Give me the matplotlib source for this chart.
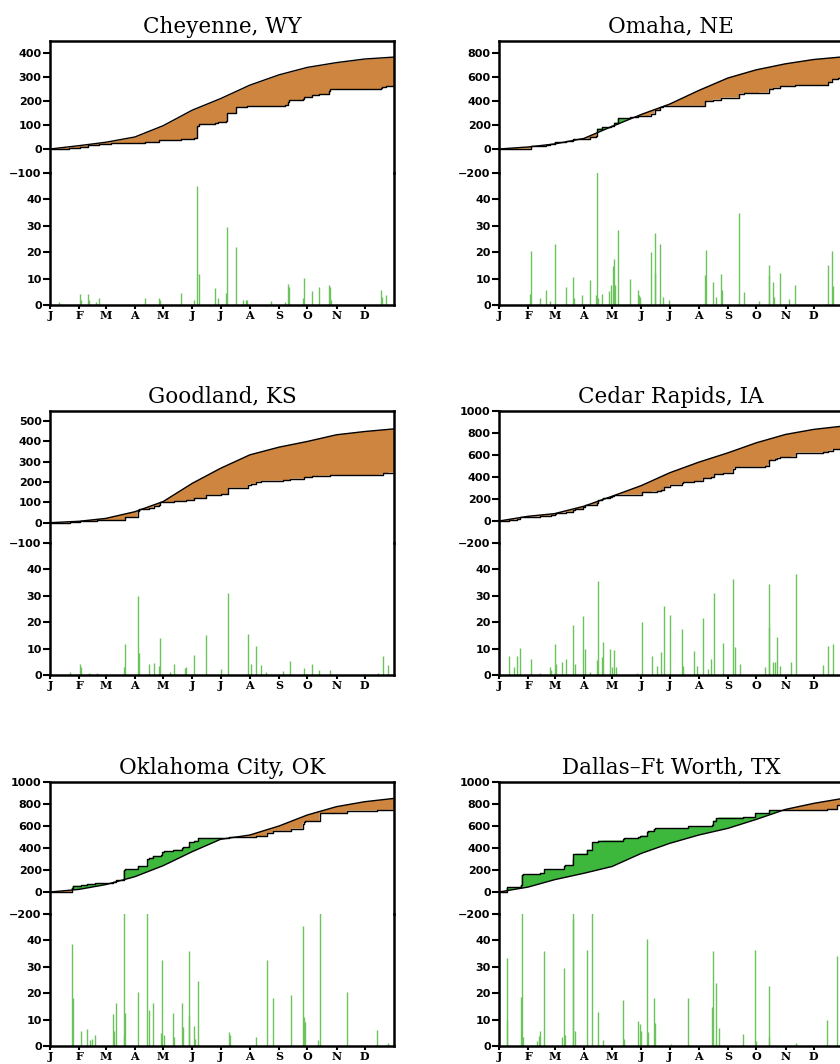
import numpy as np
import matplotlib.pyplot as plt

plt.rcParams['font.family'] = ['DejaVu Sans']
plt.rcParams['font.weight'] = 'bold'

month_starts = [0, 31, 59, 90, 120, 151, 181, 212, 243, 273, 304, 334]
month_labels = ['J', 'F', 'M', 'A', 'M', 'J', 'J', 'A', 'S', 'O', 'N', 'D']
norm_days = [0, 31, 59, 90, 120, 151, 181, 212, 243, 273, 304, 334, 365]

# Cheyenne, WY
chey_normal = [0, 14, 28, 50, 97, 162, 210, 266, 309, 340, 360, 375, 383]
chey_rain_day = [10, 32, 33, 40, 41, 49, 52, 101, 116, 117, 139, 153, 156, 158, 175, 178, 187, 188,
                 197, 205, 208, 209, 235, 249, 253, 254, 268, 269, 278, 285, 296, 297, 298, 351, 352, 357]
chey_rain_mm = [1, 4.3, 2, 4.3, 2, 1, 2.7, 2.7, 2.5, 2, 4.5, 2, 45, 11.7, 6.5, 2.5, 4.5, 29.5,
                22, 2, 2, 2, 1.5, 1, 8, 7, 2.5, 10.2, 5.3, 6.8, 7.4, 7, 2, 5.5, 3, 3.7]
chey_ytd_day = [0, 10, 20, 32, 40, 52, 65, 80, 101, 116, 139, 153, 156, 158, 175, 178, 187, 188,
                197, 205, 209, 235, 249, 253, 254, 268, 269, 278, 285, 296, 297, 298, 351, 352, 357]
chey_ytd_mm = [0, 1, 3, 9, 15, 20, 23, 26, 30, 37, 42, 46, 94, 104, 110, 113, 118, 148,
               173, 175, 178, 180, 183, 195, 203, 207, 215, 224, 231, 241, 248, 250, 256, 259, 262]

# Omaha, NE
omaha_normal = [0, 17, 42, 88, 188, 288, 374, 488, 592, 660, 710, 746, 768]
omaha_rain_day = [33, 34, 44, 50, 54, 59, 71, 79, 80, 88, 97, 103, 104, 105, 109, 117, 119, 121, 122, 123,
                  126, 139, 147, 149, 150, 161, 165, 166, 171, 174, 180, 219, 220, 227, 230, 236, 237, 255,
                  260, 276, 286, 287, 291, 292, 298, 308, 314, 349, 353, 354]
omaha_rain_mm = [4, 20.4, 2.8, 5.8, 1.6, 23, 6.8, 10.7, 2.8, 3.8, 9.5, 3.7, 57, 2.5, 4.3, 5.3, 7.7, 14.6, 17.3, 7.7,
                 28.3, 9.9, 5.8, 3.7, 3, 19.9, 27.3, 12, 23, 3.1, 1.9, 11.5, 20.9, 8.6, 3, 11.7, 5.5, 34.8,
                 5, 1.5, 15.2, 11.4, 8.6, 3, 12.3, 2.2, 7.7, 15.2, 20.6, 7.3]
omaha_ytd_day = [0, 20, 34, 44, 50, 54, 59, 71, 79, 88, 97, 103, 104, 109, 117, 119, 122, 126, 139, 147,
                 150, 161, 165, 171, 174, 180, 219, 227, 236, 255, 260, 276, 286, 291, 298, 308, 314, 349, 353, 360]
omaha_ytd_mm = [0, 2, 26, 29, 35, 38, 58, 66, 80, 85, 97, 110, 170, 180, 187, 195, 220, 255, 266, 272,
                276, 295, 322, 350, 355, 360, 397, 412, 429, 462, 467, 470, 500, 511, 523, 526, 533, 555, 583, 590]

# Goodland, KS
good_normal = [0, 7, 21, 54, 104, 194, 268, 334, 372, 400, 433, 449, 462]
good_rain_day = [21, 32, 33, 41, 44, 50, 79, 80, 93, 94, 105, 110, 116, 117, 127, 132, 143, 144, 153, 166,
                 181, 189, 210, 213, 219, 224, 229, 247, 255, 270, 278, 285, 297, 348, 353, 359]
good_rain_mm = [1, 4.3, 3, 0.6, 0.5, 0.6, 3, 11.8, 30, 8.3, 4.1, 4.6, 3.3, 14, 1.2, 4.1, 2.5, 3.1, 7.4, 15.2,
                2.1, 31.2, 15.5, 4.1, 11.1, 3.7, 1.2, 1.6, 5.3, 2.8, 4.1, 1.9, 1.9, 0.9, 7.1, 3.7]
good_ytd_day = [0, 21, 32, 33, 50, 79, 80, 93, 94, 105, 110, 116, 117, 132, 144, 153, 166, 181, 189, 210,
                213, 219, 224, 247, 255, 270, 278, 285, 297, 348, 353, 359]
good_ytd_mm = [0, 2, 6, 8, 11, 15, 28, 58, 66, 74, 82, 86, 100, 105, 112, 120, 137, 139, 172, 188,
               192, 202, 207, 210, 217, 224, 229, 231, 233, 236, 243, 247]

# Cedar Rapids, IA
cedar_normal = [0, 43, 67, 134, 225, 322, 438, 535, 620, 711, 787, 833, 863]
cedar_rain_day = [11, 16, 19, 22, 34, 43, 54, 55, 59, 61, 67, 71, 79, 81, 89, 91, 97, 104, 105, 109,
                  110, 118, 120, 122, 124, 146, 152, 162, 168, 172, 175, 181, 194, 195, 207, 210, 216, 222, 225, 228,
                  238, 248, 250, 256, 282, 286, 287, 291, 293, 295, 298, 310, 315, 344, 349, 354]
cedar_rain_mm = [7.3, 3.1, 7.3, 10.3, 6.1, 0.6, 3.1, 2, 11.6, 4.3, 5.1, 6.1, 18.8, 4.3, 22.4, 9.8, 1.2, 5.8, 35.7, 6.8,
                 12.6, 9.8, 3.1, 9.5, 3, 0.6, 20.1, 7.2, 3.5, 8.8, 26, 22.9, 17.3, 3.3, 9, 3.3, 21.7, 2.1, 6.2, 31,
                 12, 36.5, 10.5, 4.1, 3.1, 18.3, 34.3, 5, 5, 14.5, 3.3, 5, 38.1, 3.6, 11.1, 11.6]
cedar_ytd_day = [0, 11, 16, 19, 22, 34, 43, 54, 55, 59, 61, 67, 71, 79, 81, 89, 91, 97, 104, 105,
                 109, 110, 118, 120, 122, 124, 152, 162, 168, 172, 175, 181, 194, 195, 207, 210, 216, 222, 225, 228,
                 238, 248, 250, 256, 282, 286, 287, 291, 293, 295, 298, 310, 315, 344, 349, 354, 362]
cedar_ytd_mm = [0, 9, 13, 21, 33, 40, 42, 50, 53, 66, 71, 77, 84, 104, 109, 130, 142, 148, 160, 190,
                198, 210, 222, 226, 236, 240, 260, 268, 272, 281, 306, 330, 348, 351, 361, 364, 387, 390, 397, 425,
                438, 476, 487, 492, 497, 517, 551, 557, 562, 576, 580, 585, 622, 627, 640, 655, 660]

# Oklahoma City, OK
okc_normal = [0, 24, 67, 139, 239, 367, 479, 518, 600, 700, 776, 821, 851]
okc_rain_day = [23, 24, 33, 39, 42, 45, 48, 67, 68, 70, 78, 79, 80, 93, 103, 105, 109, 118, 119, 121,
                131, 132, 140, 141, 147, 148, 153, 154, 157, 190, 191, 219, 230, 237, 256, 268, 269, 271, 284, 286,
                315, 347, 359]
okc_rain_mm = [38.5, 18, 5.5, 6.5, 2.1, 2.7, 4.2, 12.3, 5.5, 16.3, 83, 4, 12.4, 20.5, 60, 13.5, 16.1, 5, 32.7, 4,
               12.4, 3.4, 16.4, 7.1, 11.2, 35.9, 7.7, 2.7, 24.5, 5.2, 4, 3.4, 32.7, 18, 19.5, 45.3, 10.8, 9, 2.4, 72,
               20.6, 6.2, 1.1]
okc_ytd_day = [0, 23, 24, 33, 39, 42, 45, 48, 67, 68, 70, 78, 79, 80, 93, 103, 105, 109, 118, 119, 121,
               131, 132, 140, 141, 147, 148, 153, 154, 157, 190, 191, 219, 230, 237, 256, 268, 269, 271, 284, 286,
               315, 347, 359]
okc_ytd_mm = [0, 39, 57, 62, 69, 71, 74, 78, 88, 93, 108, 192, 196, 208, 232, 296, 310, 328, 333, 365, 369,
              381, 384, 400, 407, 418, 454, 462, 465, 492, 498, 502, 505, 538, 556, 577, 622, 633, 642, 645, 718,
              740, 746, 747]

# Dallas-Ft Worth, TX
dal_normal = [0, 45, 112, 170, 232, 351, 442, 518, 579, 660, 751, 806, 851]
dal_rain_day = [8, 9, 23, 24, 25, 40, 42, 44, 48, 67, 69, 70, 78, 79, 81, 93, 99, 105, 110, 132,
                133, 148, 150, 151, 157, 158, 164, 166, 183, 201, 226, 227, 230, 233, 259, 272, 273, 286, 287, 315,
                348, 359]
dal_rain_mm = [33.4, 9.8, 18.5, 92, 3.4, 1.9, 3.6, 5.6, 35.9, 3.4, 29.7, 4.3, 55, 48, 5.6, 36.5, 70, 12.7, 2.1, 17.6,
               2.7, 9.6, 8.3, 5.8, 40.4, 5.2, 18, 8.6, 0.9, 18.3, 14.8, 35.9, 23.9, 6.8, 4.6, 36.5, 2, 3.4, 22.9, 1.1,
               9.8, 34]
dal_ytd_day = [0, 8, 9, 23, 24, 25, 40, 42, 44, 48, 67, 69, 70, 78, 79, 81, 93, 99, 105, 110, 132,
               133, 148, 150, 151, 157, 158, 164, 166, 183, 201, 226, 227, 230, 233, 259, 272, 273, 286, 287, 315,
               348, 359]
dal_ytd_mm = [0, 36, 46, 62, 152, 160, 162, 165, 171, 206, 209, 238, 242, 296, 342, 348, 384, 454, 466, 468, 486,
              489, 498, 506, 512, 550, 555, 572, 580, 581, 599, 613, 648, 671, 677, 681, 716, 718, 721, 743, 744,
              754, 788]

stations = [
    ('Cheyenne, WY', 0, 0, chey_normal, chey_ytd_day, chey_ytd_mm, chey_rain_day, chey_rain_mm, -100, 450, 100),
    ('Omaha, NE', 1, 0, omaha_normal, omaha_ytd_day, omaha_ytd_mm, omaha_rain_day, omaha_rain_mm, -200, 900, 200),
    ('Goodland, KS', 0, 1, good_normal, good_ytd_day, good_ytd_mm, good_rain_day, good_rain_mm, -100, 550, 100),
    ('Cedar Rapids, IA', 1, 1, cedar_normal, cedar_ytd_day, cedar_ytd_mm, cedar_rain_day, cedar_rain_mm, -200, 1000, 200),
    ('Oklahoma City, OK', 0, 2, okc_normal, okc_ytd_day, okc_ytd_mm, okc_rain_day, okc_rain_mm, -200, 1000, 200),
    ('Dallas\u2013Ft Worth, TX', 1, 2, dal_normal, dal_ytd_day, dal_ytd_mm, dal_rain_day, dal_rain_mm, -200, 1000, 200),
]

ORANGE = '#CD853F'
GREEN = '#3DB83D'
BAR = '#6CC35C'

fig = plt.figure(figsize=(8.4, 10.64), dpi=100)
W = 344 / 840
H = 132 / 1064
col_left = [50 / 840, 499 / 840]
row_top = [41, 411, 782]

x = np.linspace(0, 365, 3651)

for title, col, row, normal, ytd_day, ytd_mm, rain_day, rain_mm, ylo, yhi, ystep in stations:
    x0 = col_left[col]
    y0 = 1 - (row_top[row] + 264) / 1064
    ax_d = fig.add_axes([x0, y0, W, H])
    ax_c = fig.add_axes([x0, y0 + H, W, H])
    ax_c.set_facecolor('none')

    # cumulative: normal vs year to date
    norm_x = np.interp(x, norm_days, normal)
    idx = np.searchsorted(ytd_day, x, side='right') - 1
    act_x = np.array(ytd_mm, dtype=float)[idx]
    ax_c.fill_between(x, act_x, norm_x, where=act_x <= norm_x, interpolate=True, color=ORANGE, lw=0)
    ax_c.fill_between(x, act_x, norm_x, where=act_x >= norm_x, interpolate=True, color=GREEN, lw=0)
    ax_c.plot(norm_days, normal, color='k', lw=1.0)
    ax_c.step(list(ytd_day) + [365], list(ytd_mm) + [ytd_mm[-1]], where='post', color='k', lw=1.0)
    ax_c.set_xlim(0, 365)
    ax_c.set_ylim(ylo, yhi)
    ax_c.set_xticks([])
    ax_c.set_yticks(np.arange(ylo, yhi + 1, ystep))
    ax_c.spines['bottom'].set_visible(False)
    ax_c.set_title(title, fontsize=15.5, fontfamily='DejaVu Serif', fontweight='normal', pad=6)

    # daily bars
    ax_d.vlines(rain_day, 0, rain_mm, color=BAR, lw=1.0)
    ax_d.set_xlim(0, 365)
    ax_d.set_ylim(0, 50)
    ax_d.set_yticks([0, 10, 20, 30, 40])
    ax_d.set_xticks(month_starts)
    ax_d.set_xticklabels(month_labels, fontfamily='DejaVu Serif', fontweight='bold', fontsize=10.5)
    ax_d.spines['top'].set_visible(False)

    for ax in (ax_c, ax_d):
        for s in ax.spines.values():
            s.set_linewidth(1.8)
            s.set_capstyle('projecting')
        ax.tick_params(direction='out', length=5, width=1.5, labelsize=8, pad=1)
    ax_d.tick_params(axis='x', length=3, pad=0.5)

fig.savefig('out.png', dpi=100)
